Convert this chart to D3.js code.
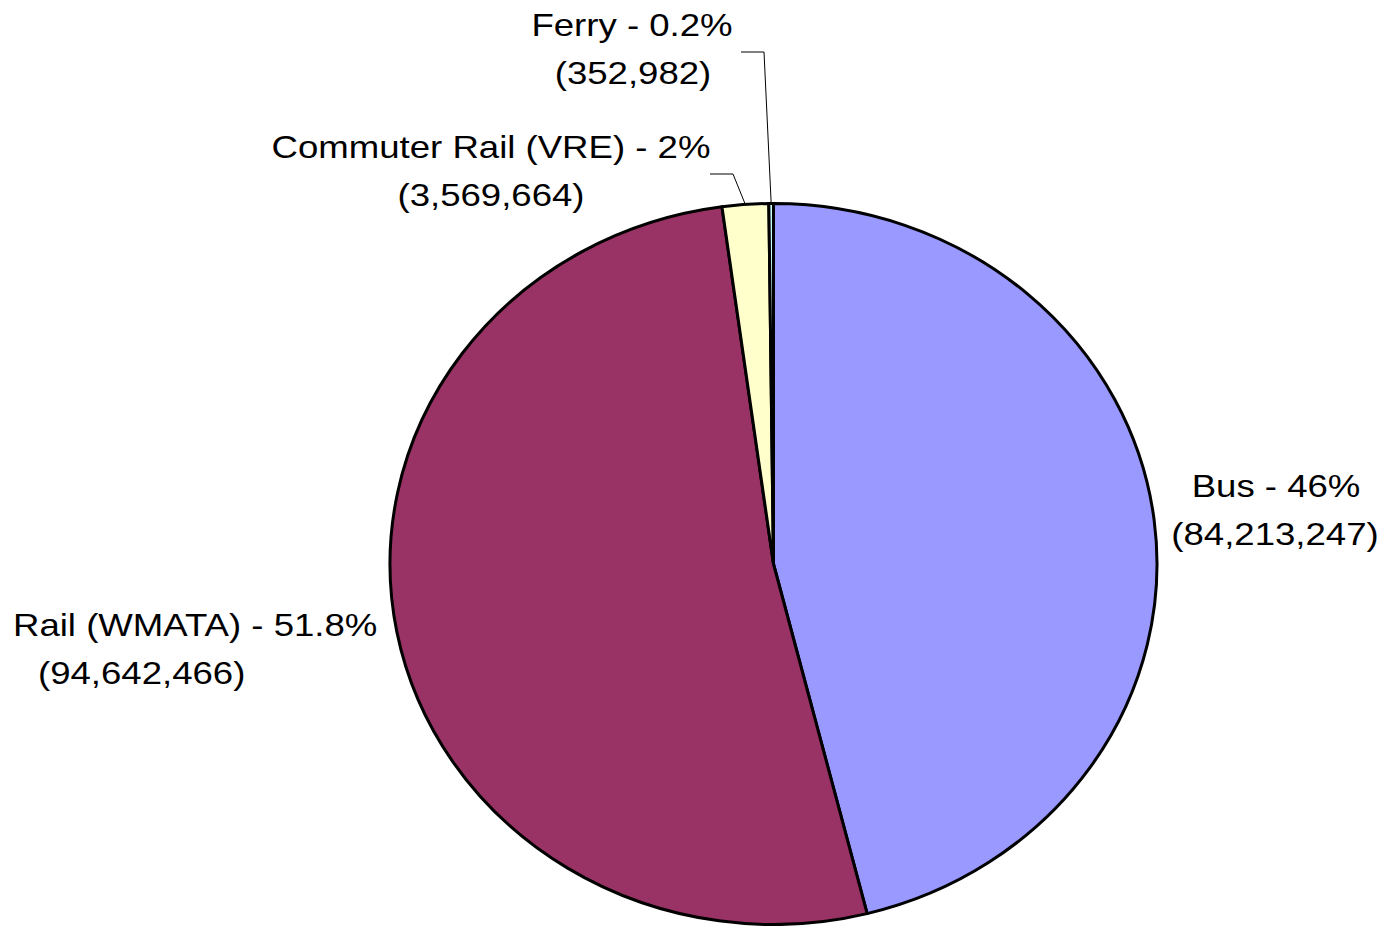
<!DOCTYPE html>
<html><head><meta charset="utf-8">
<script src="https://cdn.jsdelivr.net/npm/d3@7"></script>
<style>html,body{margin:0;padding:0;background:#fff;overflow:hidden}</style>
</head><body>
<svg id="c" width="1395" height="926"></svg>
<script>
const categories = ["Bus", "Rail (WMATA)", "Commuter Rail (VRE)", "Ferry"];
const values = [84213247, 94642466, 3569664, 352982];
const percentLabels = ["46%", "51.8%", "2%", "0.2%"];
const colors = ["#9999FF", "#993366", "#FFFFCC", "#CCFFFF"];

const svg = d3.select("#c");
const cx = 773.5, cy = 564, rx = 383.5, ry = 360.5;

const pie = d3.pie().sort(null).value(d => d)(values);
const arc = d3.arc().innerRadius(0).outerRadius(ry);

const g = svg.append("g").attr("transform", `translate(${cx},${cy}) scale(${rx/ry},1)`);
g.selectAll("path").data(pie).join("path")
  .attr("d", arc)
  .attr("fill", (d, i) => colors[i])
  .attr("stroke", "#000")
  .attr("stroke-width", 3)
  .attr("stroke-linejoin", "round")
  .attr("vector-effect", "non-scaling-stroke");

const fmt = d3.format(",");
const layout = [
  {lines: [[1276, 497, "middle"], [1275, 545, "middle"]], leader: null},
  {lines: [[13, 636, "start"], [38, 684, "start"]], leader: null},
  {lines: [[491, 158, "middle"], [491, 206, "middle"]], leader: [[710, 174], [733, 174]]},
  {lines: [[632, 36, "middle"], [633, 84, "middle"]], leader: [[741, 52], [764, 52]]}
];
const sx = 1.18;

pie.forEach((d, i) => {
  const L = layout[i];
  const texts = [categories[i] + " - " + percentLabels[i], "(" + fmt(values[i]) + ")"];
  texts.forEach((t, k) => {
    const [x, y, anchor] = L.lines[k];
    svg.append("text")
      .attr("transform", `translate(${x},${y}) scale(${sx},1)`)
      .attr("text-anchor", anchor)
      .attr("font-family", "'Liberation Sans', Arial, sans-serif")
      .attr("font-size", 31)
      .attr("fill", "#000")
      .text(t);
  });
  if (L.leader) {
    const mid = (d.startAngle + d.endAngle) / 2;
    const ex = cx + rx * Math.sin(mid), ey = cy - ry * Math.cos(mid);
    const pts = [L.leader[0], L.leader[1], [ex, ey]];
    svg.append("path")
      .attr("d", d3.line()(pts))
      .attr("fill", "none")
      .attr("stroke", "#000")
      .attr("stroke-width", 1);
  }
});
</script>
</body></html>
